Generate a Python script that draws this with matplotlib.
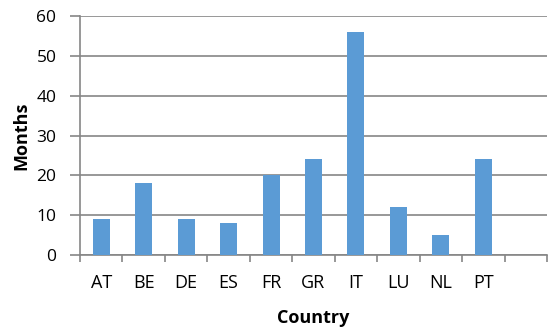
import matplotlib.pyplot as plt
import numpy as np

# Data
countries = ["AT", "BE", "DE", "ES", "FR", "GR", "IT", "LU", "NL", "PT", ""]
months = [9, 18, 9, 8, 20, 24, 56, 12, 5, 24, 0]

plt.rcParams['font.family'] = ['Open Sans', 'DejaVu Sans']

fig = plt.figure(figsize=(5.6, 3.3), dpi=100)
ax = fig.add_axes([80 / 560, 1 - 255 / 330, (547 - 80) / 560, (255 - 16) / 330])

x = np.arange(len(countries))
ax.bar(x, months, width=0.4, color='#5b9bd5', zorder=3)

gray = '#868686'
ax.set_xlim(-0.5, len(countries) - 0.5)
ax.set_ylim(0, 60)
ax.set_yticks(np.arange(0, 61, 10))
ax.yaxis.grid(True, color=gray, linewidth=1.2, zorder=0)

ax.set_xticks(x)
ax.set_xticklabels(countries, fontsize=13)
ax.set_xticks(np.arange(-0.5, len(countries), 1), minor=True)
ax.tick_params(axis='x', which='major', length=0, pad=14)
ax.tick_params(axis='x', which='minor', length=5, color=gray, width=1.2)
ax.tick_params(axis='y', length=7, color=gray, width=1.2, labelsize=12.5, pad=10)

for side in ['top', 'right']:
    ax.spines[side].set_visible(False)
for side in ['left', 'bottom']:
    ax.spines[side].set_color(gray)
    ax.spines[side].set_linewidth(1.2)

ax.set_xlabel('Country', fontsize=13, fontweight='bold', labelpad=12)
ax.set_ylabel('Months', fontsize=13, fontweight='bold', labelpad=4)

fig.savefig('out.png', dpi=100)
